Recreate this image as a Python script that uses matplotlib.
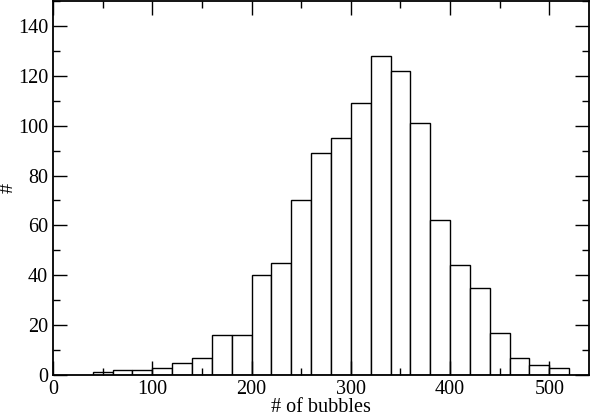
import numpy as np
import matplotlib
matplotlib.use("Agg")
import matplotlib.pyplot as plt
from matplotlib.ticker import MultipleLocator

# histogram data (bin left edges, width 20)
bin_left = [40, 60, 80, 100, 120, 140, 160, 180, 200, 220, 240, 260,
            280, 300, 320, 340, 360, 380, 400, 420, 440, 460, 480, 500]
counts = [1, 2, 2, 3, 5, 7, 16, 16, 40, 45, 70, 89,
          95, 109, 128, 122, 101, 62, 44, 35, 17, 7, 4, 3]
bin_width = 20

plt.rcParams['font.family'] = ['Liberation Serif', 'DejaVu Serif']

fig = plt.figure(figsize=(5.91, 4.16), dpi=100)
ax = fig.add_axes([0.0897, 0.0986, 0.907, 0.899])

ax.bar(bin_left, counts, width=bin_width, align='edge',
       facecolor='white', edgecolor='black', linewidth=1.0)

ax.set_xlim(0, 540)
ax.set_ylim(0, 150)
ax.xaxis.set_major_locator(MultipleLocator(100))
ax.xaxis.set_minor_locator(MultipleLocator(50))
ax.yaxis.set_major_locator(MultipleLocator(20))
ax.yaxis.set_minor_locator(MultipleLocator(10))
ax.tick_params(which='both', direction='in', top=True, right=True,
               labelsize=14.5, width=1.0)
ax.tick_params(which='major', length=10)
ax.tick_params(which='minor', length=5)
for s in ax.spines.values():
    s.set_linewidth(1.3)

ax.set_xlabel("# of bubbles", fontsize=14.5, va='center')
ax.xaxis.set_label_coords(0.5, -0.087)
ax.set_ylabel("#", fontsize=14.5, rotation=90, va='center', ha='center')
ax.yaxis.set_label_coords(-0.083, 0.5)

fig.savefig("out.png", dpi=100)
